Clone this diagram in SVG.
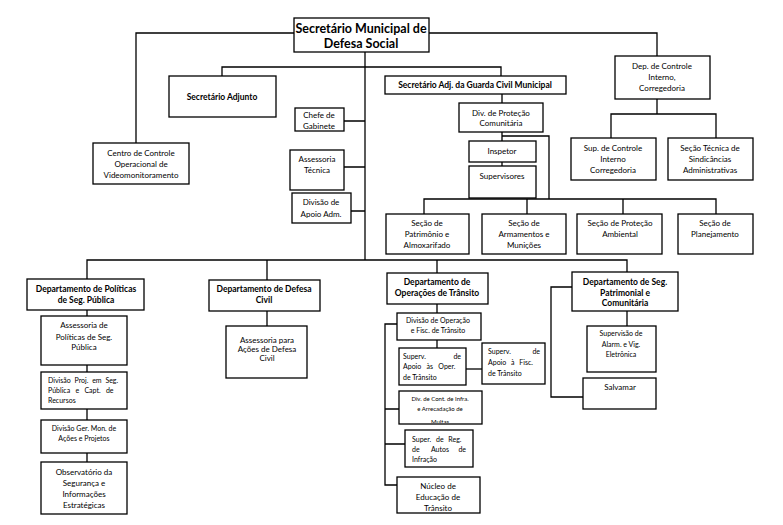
<svg xmlns="http://www.w3.org/2000/svg" width="783" height="525" viewBox="0 0 783 525">
<style>
.bx{fill:#fff;stroke:#000;stroke-width:1.3}
.ln{fill:none;stroke:#000;stroke-width:1.3}
text{font-family:Lato,"Liberation Sans",sans-serif;font-size:8px;fill:#000;text-anchor:middle}
.b{font-weight:bold;font-size:8.5px}
.t{font-weight:bold;font-size:12.5px}
.s{font-size:7px}
.l{text-anchor:start}
.r{text-anchor:end}
.xs{font-size:6px}
</style>
<defs><clipPath id="cp"><rect x="399" y="391" width="83" height="32"/></clipPath></defs>
<rect width="783" height="525" fill="#fff"/>
<g id="connectors" class="ln">
<path d="M294,33H136V143"/>
<path d="M429,33H657V56"/>
<path d="M365,52V260"/>
<path d="M222,76V67H501V76"/>
<path d="M344,121H365M344,167H365M351,211H365"/>
<path d="M502,94V103M502,132V141M502,162V166"/>
<path d="M502,136H549V199"/>
<path d="M657,99V114M611,138V114H716V138"/>
<path d="M424,214V199H716V214M527,199V214M623,199V214"/>
<path d="M87,279V260H627V272M267,260V280M437,260V273"/>
<path d="M87,310V316M87,365V372M87,409V420M87,453V462"/>
<path d="M267,311V326"/>
<path d="M437,304V313M437,340V348"/>
<path d="M466,369H482"/>
<path d="M397,324H385V485H397M385,409H399M385,444H405"/>
<path d="M627,311V326"/>
<path d="M572,287H551V397H583"/>
</g>
<g id="n-secretario">
<rect class="bx" x="294" y="18" width="135" height="34"/>
<text class="t" x="361" y="33">Secretário Municipal de</text>
<text class="t" x="361" y="48">Defesa Social</text>
</g>
<g id="n-adjunto">
<rect class="bx" x="169" y="76" width="107" height="41"/>
<text class="b" x="222" y="100">Secretário Adjunto</text>
</g>
<g id="n-guarda">
<rect class="bx" x="385" y="76" width="181" height="18"/>
<text class="b" x="475" y="88">Secretário Adj. da Guarda Civil Municipal</text>
</g>
<g id="n-controle">
<rect class="bx" x="615" y="56" width="95" height="43"/>
<text x="662" y="69">Dep. de Controle</text>
<text x="662" y="80">Interno,</text>
<text x="662" y="91">Corregedoria</text>
</g>
<g id="n-supcontrole">
<rect class="bx" x="571" y="138" width="85" height="42"/>
<text x="613" y="151">Sup. de Controle</text>
<text x="613" y="162">Interno</text>
<text x="613" y="173">Corregedoria</text>
</g>
<g id="n-sindicancias">
<rect class="bx" x="668" y="138" width="85" height="42"/>
<text x="710" y="151">Seção Técnica de</text>
<text x="710" y="162">Sindicâncias</text>
<text x="710" y="173">Administrativas</text>
</g>
<g id="n-centro">
<rect class="bx" x="93" y="143" width="96" height="41"/>
<text x="141" y="156">Centro de Controle</text>
<text x="141" y="167">Operacional de</text>
<text x="141" y="178">Videomonitoramento</text>
</g>
<g id="n-chefe">
<rect class="bx" x="295" y="108" width="49" height="23"/>
<text x="319" y="118">Chefe de</text>
<text x="319" y="129">Gabinete</text>
</g>
<g id="n-assessoria-tecnica">
<rect class="bx" x="290" y="150" width="54" height="40"/>
<text x="317" y="162">Assessoria</text>
<text x="317" y="173">Técnica</text>
</g>
<g id="n-apoio">
<rect class="bx" x="292" y="193" width="59" height="30"/>
<text x="321" y="205">Divisão de</text>
<text x="321" y="217">Apoio Adm.</text>
</g>
<g id="n-protecao">
<rect class="bx" x="459" y="103" width="84" height="29"/>
<text x="501" y="116">Div. de Proteção</text>
<text x="501" y="126">Comunitária</text>
</g>
<g id="n-inspetor">
<rect class="bx" x="469" y="141" width="67" height="21"/>
<text x="502" y="154">Inspetor</text>
</g>
<g id="n-supervisores">
<rect class="bx" x="469" y="166" width="67" height="32"/>
<text x="502" y="179">Supervisores</text>
</g>
<g id="n-patrimonio">
<rect class="bx" x="386" y="214" width="83" height="40"/>
<text x="427" y="226">Seção de</text>
<text x="427" y="237">Patrimônio e</text>
<text x="427" y="248">Almoxarifado</text>
</g>
<g id="n-armamentos">
<rect class="bx" x="482" y="214" width="84" height="40"/>
<text x="524" y="226">Seção de</text>
<text x="524" y="237">Armamentos e</text>
<text x="524" y="248">Munições</text>
</g>
<g id="n-ambiental">
<rect class="bx" x="577" y="214" width="85" height="40"/>
<text x="620" y="226">Seção de Proteção</text>
<text x="620" y="237">Ambiental</text>
</g>
<g id="n-planejamento">
<rect class="bx" x="678" y="214" width="75" height="40"/>
<text x="715" y="226">Seção de</text>
<text x="715" y="237">Planejamento</text>
</g>
<g id="n-politicas">
<rect class="bx" x="27" y="279" width="117" height="31"/>
<text class="b" x="86" y="292">Departamento de Políticas</text>
<text class="b" x="86" y="303">de Seg. Pública</text>
</g>
<g id="n-assessoria-politicas">
<rect class="bx" x="41" y="316" width="86" height="49"/>
<text x="84" y="328">Assessoria de</text>
<text x="84" y="340">Políticas de Seg.</text>
<text x="84" y="350">Pública</text>
</g>
<g id="n-projetos">
<rect class="bx" x="41" y="372" width="86" height="37"/>
<text class="s l" x="48" y="383" word-spacing="2">Divisão Proj. em Seg.</text>
<text class="s l" x="48" y="393" word-spacing="3.5">Pública e Capt. de</text>
<text class="s l" x="48" y="403">Recursos</text>
</g>
<g id="n-germon">
<rect class="bx" x="41" y="420" width="86" height="33"/>
<text class="s" x="84" y="431">Divisão Ger. Mon. de</text>
<text class="s" x="84" y="441">Ações e Projetos</text>
</g>
<g id="n-observatorio">
<rect class="bx" x="41" y="462" width="86" height="52"/>
<text x="84" y="475">Observatório da</text>
<text x="84" y="486">Segurança e</text>
<text x="84" y="497">Informações</text>
<text x="84" y="508">Estratégicas</text>
</g>
<g id="n-defesa">
<rect class="bx" x="209" y="280" width="111" height="31"/>
<text class="b" x="264" y="292">Departamento de Defesa</text>
<text class="b" x="264" y="303">Civil</text>
</g>
<g id="n-assessoria-defesa">
<rect class="bx" x="226" y="326" width="81" height="52"/>
<text x="267" y="343">Assessoria para</text>
<text x="267" y="352">Ações de Defesa</text>
<text x="267" y="361">Civil</text>
</g>
<g id="n-operacoes">
<rect class="bx" x="387" y="273" width="101" height="31"/>
<text class="b" x="437" y="285">Departamento de</text>
<text class="b" x="437" y="296">Operações de Trânsito</text>
</g>
<g id="n-divoperacao">
<rect class="bx" x="397" y="313" width="84" height="27"/>
<text class="s" x="438" y="323">Divisão de Operação</text>
<text class="s" x="438" y="333">e Fisc. de Trânsito</text>
</g>
<g id="n-supoper">
<rect class="bx" x="399" y="348" width="67" height="37"/>
<text class="s l" x="403" y="359">Superv.</text>
<text class="s r" x="461" y="359">de</text>
<text class="s l" x="403" y="369" word-spacing="3.5">Apoio às Oper.</text>
<text class="s l" x="403" y="380">de Trânsito</text>
</g>
<g id="n-supfisc">
<rect class="bx" x="482" y="343" width="63" height="41"/>
<text class="s l" x="488" y="354">Superv.</text>
<text class="s r" x="540" y="354">de</text>
<text class="s l" x="488" y="365" word-spacing="3">Apoio à Fisc.</text>
<text class="s l" x="488" y="376">de Trânsito</text>
</g>
<g id="n-infra">
<rect class="bx" x="399" y="391" width="83" height="33"/>
<g clip-path="url(#cp)">
<text class="xs" x="440" y="401">Div. de Cont. de Infra.</text>
<text class="xs" x="440" y="411">e Arrecadação de</text>
<text class="xs" x="440" y="424">Multas</text>
</g>
</g>
<g id="n-autos">
<rect class="bx" x="405" y="430" width="68" height="37"/>
<text class="s l" x="412" y="442" word-spacing="3">Super. de Reg.</text>
<text class="s l" x="412" y="452">de</text>
<text class="s" x="440" y="452">Autos</text>
<text class="s r" x="466" y="452">de</text>
<text class="s l" x="412" y="462">Infração</text>
</g>
<g id="n-nucleo">
<rect class="bx" x="397" y="477" width="83" height="36"/>
<text x="438" y="489">Núcleo de</text>
<text x="438" y="500">Educação de</text>
<text x="438" y="511">Trânsito</text>
</g>
<g id="n-patrimonial">
<rect class="bx" x="572" y="272" width="106" height="39"/>
<text class="b" x="625" y="285">Departamento de Seg.</text>
<text class="b" x="625" y="296">Patrimonial e</text>
<text class="b" x="625" y="306">Comunitária</text>
</g>
<g id="n-alarme">
<rect class="bx" x="587" y="326" width="69" height="46"/>
<text class="s" x="621" y="336">Supervisão de</text>
<text class="s" x="621" y="347">Alarm. e Vig.</text>
<text class="s" x="621" y="357">Eletrônica</text>
</g>
<g id="n-salvamar">
<rect class="bx" x="583" y="378" width="73" height="31"/>
<text x="620" y="390">Salvamar</text>
</g>
</svg>
